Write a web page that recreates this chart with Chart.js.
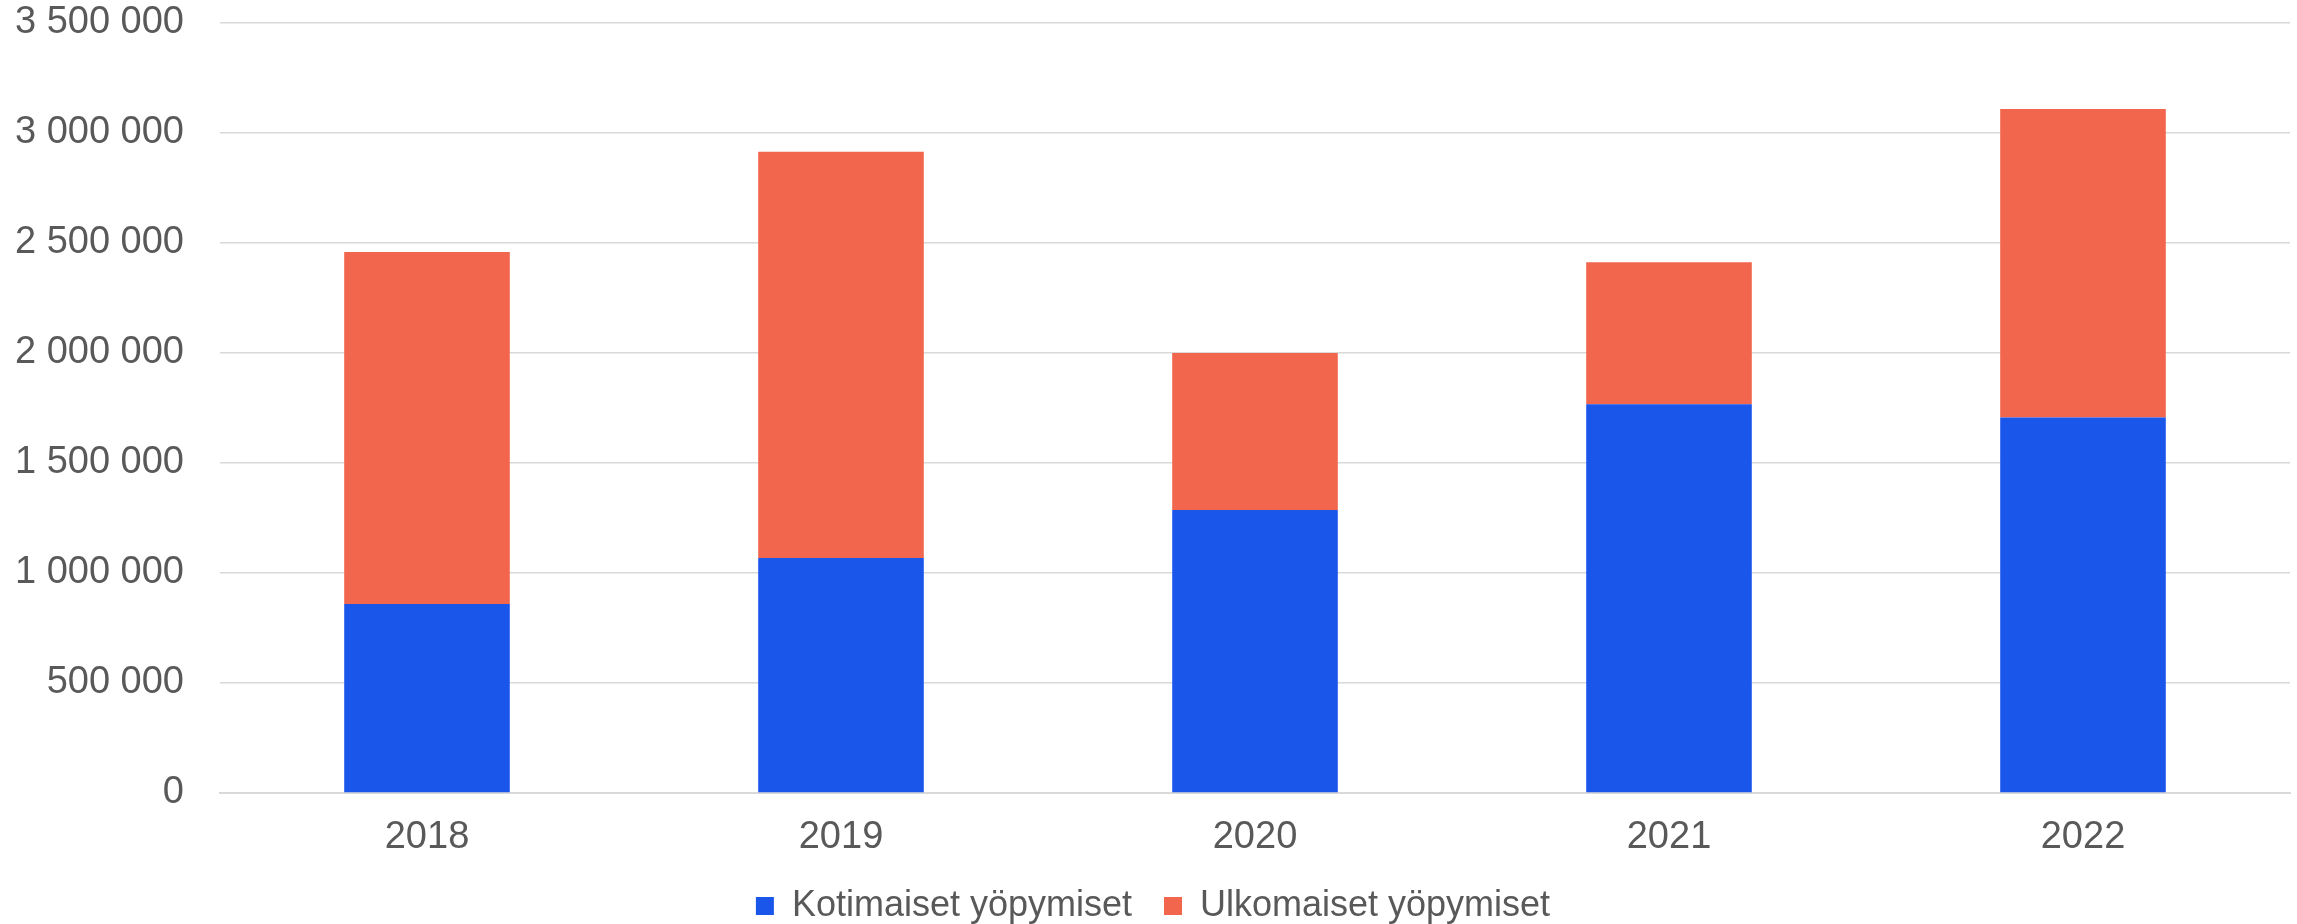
<!DOCTYPE html>
<html>
<head>
<meta charset="utf-8">
<script src="https://cdn.jsdelivr.net/npm/chart.js@4"></script>
<style>
  html, body { margin: 0; padding: 0; background: #fff; }
  #wrap { width: 2297px; height: 924px; }
</style>
</head>
<body>
<div id="wrap"><canvas id="yopymiset"></canvas></div>
<script>
const vuodet = ['2018', '2019', '2020', '2021', '2022'];
const kotimaiset = [859000, 1068000, 1286000, 1767000, 1707000];
const ulkomaiset = [1600000, 1847000, 714000, 645000, 1402000];
const yTicks = [0, 500000, 1000000, 1500000, 2000000, 2500000, 3000000, 3500000];

function muotoile(v) {
    return String(v).replace(/\B(?=(\d{3})+(?!\d))/g, ' ');
}

document.addEventListener('DOMContentLoaded', function () {
    const ctx = document.getElementById('yopymiset').getContext('2d');
    Chart.defaults.font.family = '"Liberation Sans", Arial, sans-serif';
    Chart.defaults.color = '#595959';

    new Chart(ctx, {
        type: 'bar',
        data: {
            labels: vuodet,
            datasets: [
                {
                    label: 'Kotimaiset yöpymiset',
                    data: kotimaiset,
                    backgroundColor: 'rgb(27, 86, 235)',
                    borderWidth: 0,
                    barPercentage: 0.4,
                    categoryPercentage: 1.0
                },
                {
                    label: 'Ulkomaiset yöpymiset',
                    data: ulkomaiset,
                    backgroundColor: 'rgb(242, 102, 77)',
                    borderWidth: 0,
                    barPercentage: 0.4,
                    categoryPercentage: 1.0
                }
            ]
        },
        options: {
            responsive: true,
            maintainAspectRatio: false,
            animation: false,
            layout: {
                padding: { left: 16, right: 7, top: 23, bottom: -10 }
            },
            plugins: {
                legend: {
                    position: 'bottom',
                    labels: {
                        boxWidth: 18,
                        boxHeight: 18,
                        padding: 32,
                        font: { size: 36 },
                        color: '#595959'
                    }
                },
                tooltip: { enabled: false }
            },
            scales: {
                x: {
                    stacked: true,
                    grid: { display: false },
                    border: { display: true, color: '#d9d9d9', width: 2 },
                    ticks: { font: { size: 38 }, padding: 14, color: '#595959' },
                    afterFit: function (axis) {
                        axis.height = 63;
                        axis.paddingLeft = 0;
                        axis.paddingRight = 0;
                    }
                },
                y: {
                    stacked: true,
                    min: 0,
                    max: 3500000,
                    afterBuildTicks: function (axis) {
                        axis.ticks = yTicks.map(v => ({ value: v }));
                    },
                    afterFit: function (axis) {
                        axis.width = 204;
                        axis.paddingTop = 0;
                        axis.paddingBottom = 0;
                    },
                    grid: { color: '#d9d9d9', lineWidth: 1.5, drawTicks: false },
                    border: { display: false },
                    ticks: {
                        font: { size: 38 },
                        padding: 36,
                        color: '#595959',
                        callback: function (v) { return muotoile(v); }
                    }
                }
            }
        }
    });
});
</script>
</body>
</html>
